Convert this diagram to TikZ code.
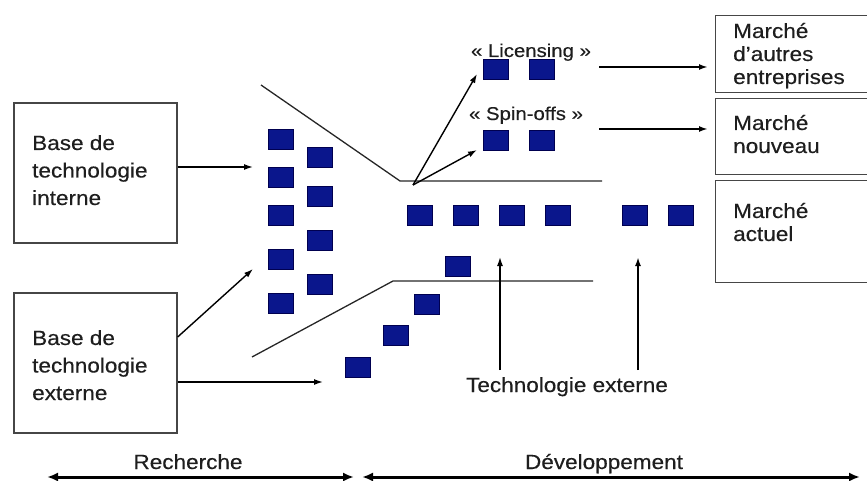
\documentclass[tikz,border=0pt]{standalone}
\usepackage{fontspec}
\setmainfont{Liberation Sans}[FakeStretch=1.1,FakeBold=0.4]
\usetikzlibrary{arrows.meta}
\newcommand\mylines[1]{\begin{tabular}[t]{@{}l@{}}#1\end{tabular}}
\definecolor{sqfill}{RGB}{10,22,140}
\definecolor{sqdraw}{RGB}{0,0,80}
\definecolor{boxline}{RGB}{70,70,70}
\definecolor{ink}{RGB}{30,30,30}
\begin{document}
\begin{tikzpicture}[x=1pt,y=-1pt,
  sq/.style={fill=sqfill,draw=sqdraw,line width=0.6pt,minimum width=25pt,minimum height=20pt,inner sep=0pt},
  frame/.style={draw=boxline,line width=1.3pt,inner sep=0pt},
  txt/.style={inner sep=0pt,text=ink,font=\fontsize{20.5}{27.5}\selectfont},
  mtxt/.style={inner sep=0pt,text=ink,font=\fontsize{20.5}{23}\selectfont},
  lbl/.style={inner sep=0pt,text=ink,font=\fontsize{18.5}{22}\selectfont},
  funnel/.style={draw=black!85,line width=1.3pt},
  arr/.style={-{Latex[length=9pt,width=6pt]},line width=1.4pt},
  bigarr/.style={{Latex[length=11pt,width=9pt]}-{Latex[length=11pt,width=9pt]},line width=3pt}
]
\useasboundingbox (0,0) rectangle (867,481);
\clip (0,0) rectangle (867,481);

% left boxes
\node[frame,minimum width=163pt,minimum height=140pt] (bi) at (95.5,173) {};
\node[txt,anchor=base west] (ti) at (32,150) {\mylines{Base de\\technologie\\interne}};
\node[frame,minimum width=163pt,minimum height=140pt] (be) at (95.5,363) {};
\node[txt,anchor=base west] (te) at (32,345) {\mylines{Base de\\technologie\\externe}};

% right boxes
\node[frame,minimum width=170pt,minimum height=77pt,anchor=north west] (m1) at (715,15) {};
\node[frame,minimum width=170pt,minimum height=76pt,anchor=north west] (m2) at (715,98) {};
\node[frame,minimum width=170pt,minimum height=102pt,anchor=north west] (m3) at (715,180) {};
\node[mtxt,anchor=base west] (tm1) at (733,38) {\mylines{Marché\\d'autres\\entreprises}};
\node[mtxt,anchor=base west] (tm2) at (733,130) {\mylines{Marché\\nouveau}};
\node[mtxt,anchor=base west] (tm3) at (733,218) {\mylines{Marché\\actuel}};

% funnel
\draw[funnel] (261,85) -- (400,181) -- (602,181);
\draw[funnel] (252,357) -- (393,281) -- (593,281);

% squares
\foreach \y [count=\i] in {139.5,177.5,215,259,303.5}
  \node[sq] (a\i) at (280.5,\y) {};
\foreach \y [count=\i] in {157.5,196.5,240.5,284.5}
  \node[sq] (b\i) at (319.5,\y) {};
\foreach \x [count=\i] in {419.5,465.5,511.5,558,634.5,681}
  \node[sq] (r\i) at (\x,215.5) {};
\node[sq] (l1) at (495.5,69.5) {};
\node[sq] (l2) at (541.5,69.5) {};
\node[sq] (s1) at (495.5,140) {};
\node[sq] (s2) at (541.5,140) {};
\node[sq] (d1) at (457.5,266.5) {};
\node[sq] (d2) at (426.5,304) {};
\node[sq] (d3) at (395.5,335) {};
\node[sq] (d4) at (357.5,367) {};

% labels
\node[lbl,anchor=base] (llic) at (531,57) {« Licensing »};
\node[lbl,anchor=base] (lspin) at (526,120) {« Spin-offs »};
\node[txt,anchor=base] (ltech) at (567,392) {Technologie externe};
\node[txt,anchor=base] (lrech) at (188,469) {Recherche};
\node[txt,anchor=base] (ldev) at (604,469) {Développement};

% coordinates
\coordinate (pi) at (253,167);
\coordinate (pe1) at (253,269);
\coordinate (pe2) at (323,382);
\coordinate (fork) at (413,185);
\coordinate (plic) at (477,74);
\coordinate (pspin) at (477,150);
\coordinate (o1) at (599,67);
\coordinate (o2) at (599,129);
\coordinate (e1) at (708,67);
\coordinate (e2) at (708,129);
\coordinate (u1s) at (500,370);
\coordinate (u1e) at (500,257);
\coordinate (u2s) at (638,370);
\coordinate (u2e) at (638,257);
\coordinate (rl) at (47,477);
\coordinate (rr) at (354,477);
\coordinate (dl) at (362,477);
\coordinate (dr) at (860,477);

% arrows
\draw[arr] ([yshift=6pt]bi.east) -- (pi);
\draw[arr] ([yshift=26pt]be.east) -- (pe1);
\draw[arr] ([yshift=-19pt]be.east) -- (pe2);
\draw[arr] (fork) -- (plic);
\draw[arr] (fork) -- (pspin);
\draw[arr,line width=1.8pt] (o1) -- (e1);
\draw[arr,line width=1.8pt] (o2) -- (e2);
\draw[arr] (u1s) -- (u1e);
\draw[arr,line width=1.9pt] (u2s) -- (u2e);
\draw[bigarr] (rl) -- (rr);
\draw[bigarr] (dl) -- (dr);
\end{tikzpicture}
\end{document}
